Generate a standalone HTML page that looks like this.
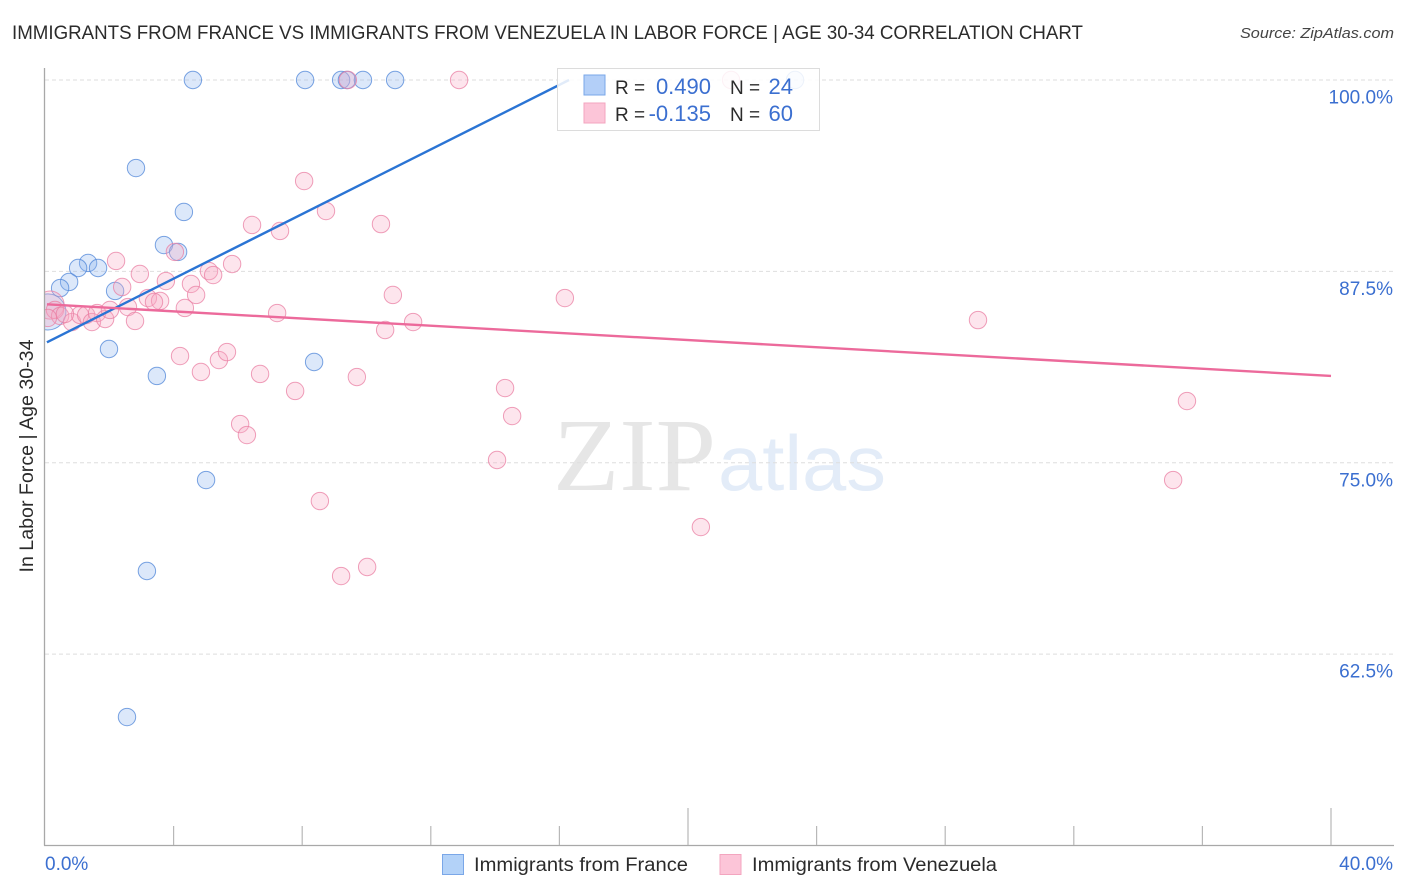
<!DOCTYPE html>
<html lang="en">
<head>
<meta charset="utf-8">
<title>Immigrants from France vs Immigrants from Venezuela correlation chart</title>
<style>
html,body{margin:0;padding:0;background:#fff;}
body{width:1406px;height:892px;overflow:hidden;}
svg{display:block;font-family:"Liberation Sans",sans-serif;}
</style>
</head>
<body>
<svg id="chart" xmlns="http://www.w3.org/2000/svg" width="1406" height="892" viewBox="0 0 1406 892">
  <defs>
    <clipPath id="plot-clip"><rect x="45" y="60" width="1350" height="785"/></clipPath>
  </defs>
  <text x="12" y="39" font-size="19" fill="#2b2b2b" textLength="1071" lengthAdjust="spacingAndGlyphs">IMMIGRANTS FROM FRANCE VS IMMIGRANTS FROM VENEZUELA IN LABOR FORCE | AGE 30-34 CORRELATION CHART</text>
  <text x="1394" y="38" font-size="15" font-style="italic" fill="#444" text-anchor="end" textLength="154" lengthAdjust="spacingAndGlyphs">Source: ZipAtlas.com</text>

  <g>
    <text x="553" y="490" font-family="'Liberation Serif',serif" font-size="104" fill="#e6e6e6" textLength="163" lengthAdjust="spacingAndGlyphs">ZIP</text>
    <text x="718" y="490" font-size="78" fill="#e3ecf8" textLength="168" lengthAdjust="spacingAndGlyphs">atlas</text>
  </g>

  <g id="grid"></g>
  <g id="series-france" clip-path="url(#plot-clip)"></g>
  <g id="series-venezuela" clip-path="url(#plot-clip)"></g>
  <g id="trends"></g>
  <g id="axes"></g>
  <g id="y-labels"></g>
  <g id="x-labels"></g>

  <text transform="translate(33,456) rotate(-90)" font-size="19" fill="#2b2b2b" text-anchor="middle" textLength="233" lengthAdjust="spacingAndGlyphs">In Labor Force | Age 30-34</text>

  <g>
    <rect x="557.5" y="68.5" width="262" height="62" fill="#fff" fill-opacity="0.86" stroke="#dcdcdc" stroke-width="1"/>
    <rect x="584" y="75" width="21" height="20" fill="#b3cff8" stroke="#7aa7e8" stroke-width="1"/>
    <rect x="584" y="103" width="21" height="20" fill="#fcc5d8" stroke="#f3a5bf" stroke-width="1"/>
    <text x="615" y="94" font-size="19" fill="#2b2b2b">R =</text>
    <text x="711" y="94" font-size="22" fill="#3b6fd0" text-anchor="end">0.490</text>
    <text x="730" y="94" font-size="19" fill="#2b2b2b">N =</text>
    <text x="793" y="94" font-size="22" fill="#3b6fd0" text-anchor="end">24</text>
    <text x="615" y="121" font-size="19" fill="#2b2b2b">R =</text>
    <text x="711" y="121" font-size="22" fill="#3b6fd0" text-anchor="end">-0.135</text>
    <text x="730" y="121" font-size="19" fill="#2b2b2b">N =</text>
    <text x="793" y="121" font-size="22" fill="#3b6fd0" text-anchor="end">60</text>
  </g>

  <g>
    <rect x="442.5" y="854.5" width="21" height="20" fill="#b3d2f8" stroke="#7aa7e8" stroke-width="1"/>
    <text x="474" y="871" font-size="19" fill="#2b2b2b" textLength="214" lengthAdjust="spacingAndGlyphs">Immigrants from France</text>
    <rect x="720" y="854.5" width="21" height="20" fill="#fcc5d8" stroke="#f3a5bf" stroke-width="1"/>
    <text x="752" y="871" font-size="19" fill="#2b2b2b" textLength="245" lengthAdjust="spacingAndGlyphs">Immigrants from Venezuela</text>
  </g>
</svg>
<script>
const franceX = [4.60,8.09,9.21,9.39,9.89,10.89,23.33,2.83,4.32,3.70,4.14,1.34,1.03,1.65,0.75,0.47,2.18,0.09,1.99,3.48,8.37,5.01,3.17,2.55];
const franceY = [100,100,100,100,100,100,100,94.25,91.38,89.22,88.77,88.05,87.72,87.72,86.81,86.41,86.22,84.85,82.43,80.67,81.58,73.87,67.93,58.39];
const franceWeight = [1,1,1,1,1,1,1,1,1,1,1,1,1,1,1,1,1,4.3,1,1,1,1,1,1];

const venezuelaX = [9.42,12.88,21.34,8.06,8.74,6.44,7.31,10.45,2.21,4.04,2.95,5.10,5.23,5.82,3.76,4.54,2.40,4.70,10.82,16.17,3.20,3.58,3.39,4.35,7.22,29.02,11.45,10.58,0.16,0.31,0.47,0.84,1.09,1.28,1.46,1.62,1.87,2.02,2.58,2.80,4.20,4.85,5.41,5.66,6.69,7.78,9.70,14.31,14.53,6.07,6.28,14.06,35.52,35.09,20.40,8.55,10.02,9.21,0.09,0.62];
const venezuelaY = [100,100,100,93.40,91.44,90.53,90.14,90.59,88.18,88.77,87.33,87.52,87.26,87.98,86.87,86.68,86.48,85.96,85.96,85.76,85.76,85.57,85.50,85.11,84.78,84.32,84.19,83.67,85.30,84.98,84.59,84.19,84.65,84.65,84.19,84.78,84.39,84.98,85.17,84.26,81.97,80.93,81.71,82.23,80.80,79.69,80.60,79.88,78.05,77.53,76.81,75.18,79.03,73.87,70.80,72.50,68.19,67.60,84.46,84.72];
const venezuelaWeight = [1,1,1,1,1,1,1,1,1,1,1,1,1,1,1,1,1,1,1,1,1,1,1,1,1,1,1,1,2.6,1,1,1,1,1,1,1,1,1,1,1,1,1,1,1,1,1,1,1,1,1,1,1,1,1,1,1,1,1,1,1];

const franceTrendX = [0.06,16.3];
const franceTrendY = [82.87,100];
const venezuelaTrendX = [0.06,40];
const venezuelaTrendY = [85.35,80.67];

const yTickValues = [100,87.5,75,62.5];
const yTickLabels = ["100.0%","87.5%","75.0%","62.5%"];
const xTickValues = [4,8,12,16,20,24,28,32,36,40];
const xMajorTicks = [20,40];
const xEndLabels = ["0.0%","40.0%"];

const SVG_NS = "http://www.w3.org/2000/svg";
function xScale(v){ return 45 + v * 32.15; }
function yScale(v){ return 80 + (100 - v) * 15.31; }
function make(tag, attrs, parent){
  const el = document.createElementNS(SVG_NS, tag);
  Object.keys(attrs).forEach(function(k){ el.setAttribute(k, attrs[k]); });
  parent.appendChild(el);
  return el;
}

const gridGroup = document.getElementById("grid");
yTickValues.forEach(function(v){
  const line = make("line", {x1:45, x2:1394, y1:yScale(v), y2:yScale(v), stroke:"#dedede", "stroke-width":1, "stroke-dasharray":"4 3"}, gridGroup);
  
  
});

const yLabelGroup = document.getElementById("y-labels");
yTickValues.forEach(function(v, i){
  const t = make("text", {x:1393, y:yScale(v)+23.5, "font-size":19, fill:"#3b6fd0", "text-anchor":"end"}, yLabelGroup);
  
  
  t.textContent = yTickLabels[i];
});

const axesGroup = document.getElementById("axes");
const yAxis = make("line", {x1:44.5, x2:44.5, y1:68, y2:845.5, stroke:"#a8a8a8", "stroke-width":1.3}, axesGroup);


const xAxis = make("line", {x1:44, x2:1394, y1:845.5, y2:845.5, stroke:"#a8a8a8", "stroke-width":1.3}, axesGroup);


xTickValues.forEach(function(v){
  const top = xMajorTicks.indexOf(v) >= 0 ? 808 : 826;
  const tick = make("line", {x1:xScale(v), x2:xScale(v), y1:top, y2:845, stroke:"#b8b8b8", "stroke-width":1.2}, axesGroup);
  
  
});

const xLabelGroup = document.getElementById("x-labels");
const xLabelLeft = make("text", {x:45, y:870, "font-size":19, fill:"#3b6fd0"}, xLabelGroup);


xLabelLeft.textContent = xEndLabels[0];
const xLabelRight = make("text", {x:1393, y:870, "font-size":19, fill:"#3b6fd0", "text-anchor":"end"}, xLabelGroup);


xLabelRight.textContent = xEndLabels[1];

function drawPoints(groupId, xs, ys, weights, fill, stroke){
  const group = document.getElementById(groupId);
  xs.forEach(function(x, i){
    const c = make("circle", {cx:xScale(x), cy:yScale(ys[i]), r:8.7*Math.sqrt(weights[i]), fill:fill, "fill-opacity":0.3, stroke:stroke, "stroke-opacity":0.75, "stroke-width":1}, group);
    
    
  });
}
drawPoints("series-france", franceX, franceY, franceWeight, "#8ab4ee", "#4f86d8");
drawPoints("series-venezuela", venezuelaX, venezuelaY, venezuelaWeight, "#f7a8c2", "#ea7fa3");

const trendGroup = document.getElementById("trends");
const franceTrend = make("line", {x1:xScale(franceTrendX[0]), y1:yScale(franceTrendY[0]), x2:xScale(franceTrendX[1]), y2:yScale(franceTrendY[1]), stroke:"#2a74d4", "stroke-width":2.4}, trendGroup);


const venezuelaTrend = make("line", {x1:xScale(venezuelaTrendX[0]), y1:yScale(venezuelaTrendY[0]), x2:xScale(venezuelaTrendX[1]), y2:yScale(venezuelaTrendY[1]), stroke:"#ec6a9b", "stroke-width":2.4}, trendGroup);


</script>
</body>
</html>
